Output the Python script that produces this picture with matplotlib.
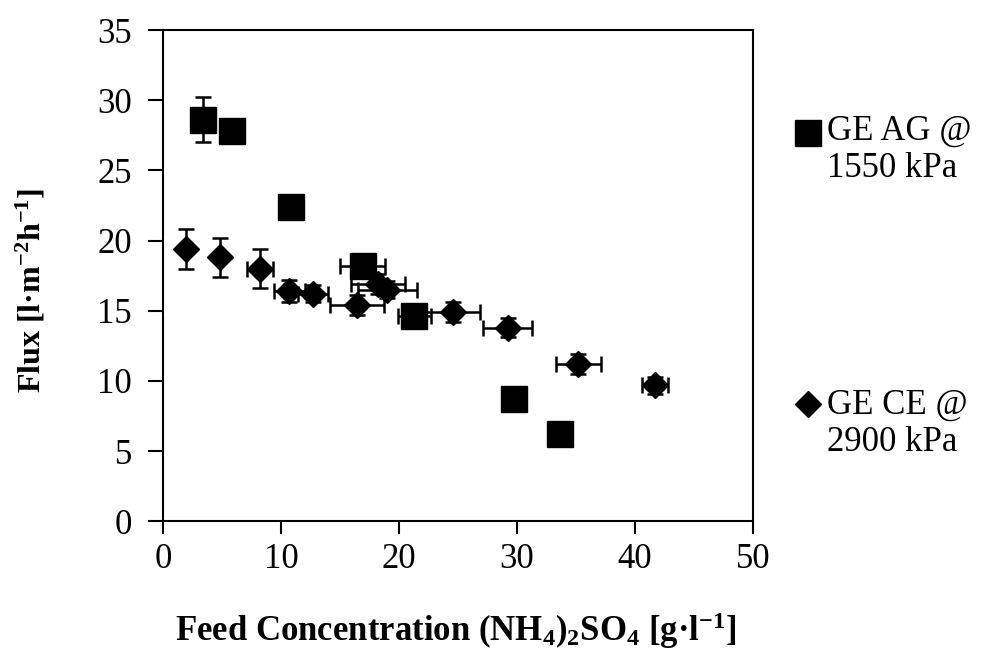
import matplotlib
matplotlib.use("Agg")
import matplotlib.pyplot as plt

plt.rcParams['font.family'] = ['Liberation Serif', 'DejaVu Serif']
plt.rcParams['mathtext.fontset'] = 'custom'
plt.rcParams['mathtext.rm'] = 'Liberation Serif'
plt.rcParams['mathtext.bf'] = 'Liberation Serif:bold'
plt.rcParams['mathtext.it'] = 'Liberation Serif:italic'

# GE AG @ 1550 kPa (squares)
ag_x = [3.4, 5.8, 10.8, 16.9, 21.3, 29.7, 33.6]
ag_y = [28.6, 27.8, 22.4, 18.2, 14.6, 8.7, 6.2]
ag_xerr = [0.0, 0.0, 0.0, 1.9, 1.4, 0.0, 0.0]
ag_yerr = [1.6, 0.0, 0.0, 0.0, 0.0, 0.0, 0.0]

# GE CE @ 2900 kPa (diamonds)
ce_x = [1.9, 4.8, 8.2, 10.7, 12.7, 16.4, 18.2, 19.0, 24.6, 29.2, 35.2, 41.7]
ce_y = [19.4, 18.8, 18.0, 16.4, 16.2, 15.4, 16.9, 16.5, 14.9, 13.8, 11.2, 9.7]
ce_xerr = [0.0, 0.0, 1.1, 1.3, 1.3, 2.3, 2.3, 2.5, 2.3, 2.1, 1.9, 1.1]
ce_yerr = [1.4, 1.4, 1.4, 0.8, 0.6, 0.7, 0.7, 0.6, 0.7, 0.7, 0.7, 0.6]

xticks = [0, 10, 20, 30, 40, 50]
yticks = [0, 5, 10, 15, 20, 25, 30, 35]

fig = plt.figure(figsize=(9.83, 6.54), dpi=100)
ax = fig.add_axes([0.166, 0.203, 0.600, 0.751])

ax.errorbar(ce_x, ce_y, xerr=ce_xerr, yerr=ce_yerr, fmt='D', color='black',
            markersize=13, ecolor='black', elinewidth=1.8, capsize=5.5, capthick=1.8)
ax.errorbar(ag_x, ag_y, xerr=ag_xerr, yerr=ag_yerr, fmt='s', color='black',
            markersize=18.5, ecolor='black', elinewidth=1.8, capsize=5.5, capthick=1.8)

ax.set_xlim(0, 50)
ax.set_ylim(0, 35)
ax.set_xticks(xticks)
ax.set_yticks(yticks)
ax.tick_params(direction='out', width=1.5, labelsize=25)
ax.tick_params(axis='x', length=9, pad=7)
ax.tick_params(axis='y', length=10.5, pad=12)
for s in ax.spines.values():
    s.set_linewidth(1.5)

ax.set_xlabel('Feed Concentration (NH$_\\mathbf{4}$)$_\\mathbf{2}$SO$_\\mathbf{4}$ [g·l$^\\mathbf{-1}$]',
              fontsize=25, fontweight='bold', va='center')
ax.xaxis.set_label_coords(0.497, -0.222)
ax.set_ylabel('Flux [l·m$^\\mathbf{-2}$h$^\\mathbf{-1}$]', fontsize=23,
              fontweight='bold', va='center')
ax.yaxis.set_label_coords(-0.225, 0.47)

# legend
ax.plot([0.822], [0.797], marker='s', markersize=18.5, color='black',
        transform=fig.transFigure, clip_on=False)
fig.text(0.841, 0.824, 'GE AG @\n1550 kPa', fontsize=25, va='top',
         ha='left', linespacing=1.15)
ax.plot([0.822], [0.382], marker='D', markersize=13, color='black',
        transform=fig.transFigure, clip_on=False)
fig.text(0.841, 0.405, 'GE CE @\n2900 kPa', fontsize=25, va='top',
         ha='left', linespacing=1.15)

fig.savefig('out.png', dpi=100)
